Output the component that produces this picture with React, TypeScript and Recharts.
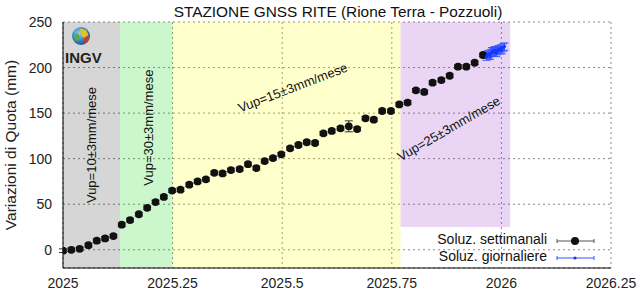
import React from 'react';
import {
  ScatterChart,
  Scatter,
  XAxis,
  YAxis,
  CartesianGrid,
  ReferenceArea,
  ReferenceDot,
  ErrorBar,
} from 'recharts';

// Weekly solutions (decimal year, mm)
const weeklyT = [
  2025.0, 2025.019, 2025.038, 2025.058, 2025.077, 2025.096, 2025.115, 2025.134, 2025.153, 2025.173,
  2025.192, 2025.211, 2025.23, 2025.249, 2025.268, 2025.288, 2025.307, 2025.326, 2025.345, 2025.364,
  2025.383, 2025.403, 2025.422, 2025.441, 2025.46, 2025.479, 2025.498, 2025.518, 2025.537, 2025.556,
  2025.575, 2025.594, 2025.613, 2025.633, 2025.652, 2025.671, 2025.69, 2025.709, 2025.728, 2025.748,
  2025.767, 2025.786, 2025.805, 2025.824, 2025.843, 2025.863, 2025.882, 2025.901, 2025.92, 2025.939,
  2025.958,
];
const weeklyV = [
  -1, 0, 1, 5, 10, 12.5, 15, 27.5, 32.6, 39,
  46, 52.4, 58, 65, 66, 71.4, 75, 77.3, 84.5, 83.8,
  87.5, 88.6, 94, 89.7, 97.4, 100.6, 104.8, 111.4, 115, 118,
  117.2, 127.8, 130.4, 133.3, 135.5, 132.5, 144.3, 142.8, 152.3, 152.3,
  159.5, 161.6, 175, 173.2, 183.4, 186.3, 191, 201, 201, 205.3,
  213.8,
];
const weeklyErr = [
  2, 2, 2, 2, 2, 2, 2, 2, 2, 2,
  2, 2, 2, 2, 2, 2, 2, 2, 2, 2,
  2, 2, 2, 2, 2, 2, 2, 2, 2, 2,
  2, 2, 2, 2, 6, 2, 2, 2, 2, 2,
  2, 2, 2, 2, 2, 2, 2, 2, 2, 2,
  2,
];

// Daily solutions
const dailyT = [
  2025.966, 2025.969, 2025.971, 2025.974, 2025.977, 2025.979, 2025.982, 2025.985,
  2025.988, 2025.99, 2025.993, 2025.996, 2025.999, 2026.001, 2026.004, 2026.007,
];
const dailyV = [212, 214, 215, 213, 216, 218, 217, 219, 216, 218, 220, 219, 221, 219, 222, 223];
const dailyErr = [4, 4, 4, 4, 4, 4, 4, 4, 4, 4, 4, 4, 4, 4, 4, 4];

const xTicks = [2025, 2025.25, 2025.5, 2025.75, 2026, 2026.25];
const xMinorTicks = [
  2025.0833, 2025.1667, 2025.3333, 2025.4167, 2025.5833, 2025.6667,
  2025.8333, 2025.9167, 2026.0833, 2026.1667,
];
const yTicks = [0, 50, 100, 150, 200, 250];
const yMinorTicks = [
  -10, 10, 20, 30, 40, 60, 70, 80, 90, 110, 120, 130, 140, 160, 170, 180, 190, 210, 220, 230, 240,
];

// Deformation phases
const phaseStart = [2025, 2025.13, 2025.25, 2025.77];
const phaseEnd = [2025.13, 2025.25, 2025.77, 2026.02];
const phaseBottom = [-20, -20, -20, 25];
const phaseTop = [250, 250, 250, 250];
const phaseColors = ['rgba(0,0,0,0.16)', 'rgba(0,210,0,0.2)', 'rgba(255,255,0,0.2)', 'rgba(150,50,200,0.2)'];

const rateLabels = ['Vup=10±3mm/mese', 'Vup=30±3mm/mese', 'Vup=15±3mm/mese', 'Vup=25±3mm/mese'];
const rateX = [2025.066, 2025.194, 2025.524, 2025.88];
const rateY = [115, 134, 178, 133];
const rateAngle = [-90, -90, -21, -30];

const FONT = '"Liberation Sans", Arial, sans-serif';

const weeklyData = weeklyT.map((t, i) => ({ t, v: weeklyV[i], err: weeklyErr[i] }));
const dailyData = dailyT.map((t, i) => ({ t, v: dailyV[i], err: dailyErr[i] }));

const rotatedLabel = (text: string, angle: number) => (props: any) => {
  const { x, y } = props.viewBox;
  return (
    <text
      x={0}
      y={0}
      transform={`translate(${x},${y}) rotate(${angle})`}
      textAnchor="middle"
      dominantBaseline="central"
      fontSize={13}
      fontFamily={FONT}
      fill="#111"
    >
      {text}
    </text>
  );
};

export default function App() {
  return (
    <div style={{ position: 'absolute', left: 0, top: 0, width: 638, height: 302, background: '#fff', fontFamily: FONT }}>
      <ScatterChart width={638} height={302} margin={{ top: 22, right: 27, bottom: 0, left: 0 }}>
        {phaseStart.map((s, i) => (
          <ReferenceArea
            key={i}
            x1={s}
            x2={phaseEnd[i]}
            y1={phaseBottom[i]}
            y2={phaseTop[i]}
            fill={phaseColors[i]}
            fillOpacity={1}
            stroke="none"
          />
        ))}
        <CartesianGrid stroke="#8a8a8a" strokeDasharray="2 3" />
        <XAxis
          type="number"
          dataKey="t"
          domain={[2025, 2026.25]}
          ticks={xTicks}
          interval={0}
          height={34}
          tickLine={false}
          tickSize={6}
          tickMargin={4}
          axisLine={{ stroke: '#000' }}
          tick={{ fontSize: 14, fill: '#222', fontFamily: FONT }}
          allowDataOverflow
        />
        <YAxis
          type="number"
          dataKey="v"
          domain={[-20, 250]}
          ticks={yTicks}
          interval={0}
          width={63}
          tickLine={false}
          tickSize={6}
          tickMargin={5}
          axisLine={{ stroke: '#000' }}
          tick={{ fontSize: 14, fill: '#222', fontFamily: FONT }}
          allowDataOverflow
        />
        {/* inward tick marks on all four sides */}
        <XAxis xAxisId="top" orientation="top" mirror type="number" domain={[2025, 2026.25]} ticks={xTicks} interval={0} height={0} tick={false} tickSize={5} axisLine={{ stroke: '#000' }} tickLine={{ stroke: '#000' }} allowDataOverflow />
        <XAxis xAxisId="topMinor" orientation="top" mirror type="number" domain={[2025, 2026.25]} ticks={xMinorTicks} interval={0} height={0} tick={false} tickSize={3} axisLine={false} tickLine={{ stroke: '#000' }} allowDataOverflow />
        <XAxis xAxisId="bot" orientation="bottom" mirror type="number" domain={[2025, 2026.25]} ticks={xTicks} interval={0} height={0} tick={false} tickSize={5} axisLine={false} tickLine={{ stroke: '#000' }} allowDataOverflow />
        <XAxis xAxisId="botMinor" orientation="bottom" mirror type="number" domain={[2025, 2026.25]} ticks={xMinorTicks} interval={0} height={0} tick={false} tickSize={3} axisLine={false} tickLine={{ stroke: '#000' }} allowDataOverflow />
        <YAxis yAxisId="right" orientation="right" mirror type="number" domain={[-20, 250]} ticks={yTicks} interval={0} width={0} tick={false} tickSize={5} axisLine={{ stroke: '#000' }} tickLine={{ stroke: '#000' }} allowDataOverflow />
        <YAxis yAxisId="rightMinor" orientation="right" mirror type="number" domain={[-20, 250]} ticks={yMinorTicks} interval={0} width={0} tick={false} tickSize={3} axisLine={false} tickLine={{ stroke: '#000' }} allowDataOverflow />
        <YAxis yAxisId="left" orientation="left" mirror type="number" domain={[-20, 250]} ticks={yTicks} interval={0} width={0} tick={false} tickSize={5} axisLine={false} tickLine={{ stroke: '#000' }} allowDataOverflow />
        <YAxis yAxisId="leftMinor" orientation="left" mirror type="number" domain={[-20, 250]} ticks={yMinorTicks} interval={0} width={0} tick={false} tickSize={3} axisLine={false} tickLine={{ stroke: '#000' }} allowDataOverflow />

        {rateLabels.map((txt, i) => (
          <ReferenceDot
            key={txt}
            x={rateX[i]}
            y={rateY[i]}
            r={0}
            fill="none"
            stroke="none"
            label={rotatedLabel(txt, rateAngle[i])}
          />
        ))}

        <Scatter
          name="Soluz. settimanali"
          data={weeklyData}
          isAnimationActive={false}
          shape={(p: any) => <circle cx={p.cx} cy={p.cy} r={3.9} fill="#111" />}
        >
          <ErrorBar dataKey="err" direction="y" width={4} stroke="#333" strokeWidth={1} />
        </Scatter>
        <Scatter
          name="Soluz. giornaliere"
          data={dailyData}
          isAnimationActive={false}
          shape={(p: any) => <circle cx={p.cx} cy={p.cy} r={1.6} fill="#1535ff" />}
        >
          <ErrorBar dataKey="err" direction="y" width={4} stroke="#3355ff" strokeWidth={1} />
        </Scatter>
      </ScatterChart>

      <svg width={638} height={302} style={{ position: 'absolute', left: 0, top: 0, pointerEvents: 'none' }}>
        <defs>
          <radialGradient id="globe" cx="40%" cy="35%" r="70%">
            <stop offset="0%" stopColor="#8fd0f0" />
            <stop offset="60%" stopColor="#2f86c0" />
            <stop offset="100%" stopColor="#1c4f86" />
          </radialGradient>
        </defs>
        <text x={338} y={16.5} textAnchor="middle" fontSize={15.4} fontFamily={FONT} fill="#111">
          STAZIONE GNSS RITE (Rione Terra - Pozzuoli)
        </text>
        <text transform="translate(16,145) rotate(-90)" textAnchor="middle" fontSize={15.5} fontFamily={FONT} fill="#222">
          Variazioni di Quota (mm)
        </text>

        {/* INGV logo */}
        <circle cx={81} cy={36} r={9} fill="url(#globe)" />
        <path d="M80 28.5 L86 30 L88.5 35 L84 38 L81 35 Z" fill="#e8c020" />
        <path d="M84 38 L89 36 L88.5 41 L84 43.5 Z" fill="#d03a2a" />
        <path d="M73.5 36 L78 33 L80 38 L76 41.5 Z" fill="#5aa84a" />
        <text x={65} y={63} fontSize={15} fontWeight="bold" fontFamily='"Liberation Sans Narrow", "Arial Narrow", sans-serif' fill="#222">
          INGV
        </text>

        {/* legend */}
        <text x={547} y={244} textAnchor="end" fontSize={14} fontFamily={FONT} fill="#111">
          Soluz. settimanali
        </text>
        <line x1={557} y1={241} x2={594} y2={241} stroke="#555" strokeWidth={1} />
        <line x1={557} y1={239} x2={557} y2={243} stroke="#555" strokeWidth={1} />
        <line x1={594} y1={239} x2={594} y2={243} stroke="#555" strokeWidth={1} />
        <circle cx={575} cy={241} r={4} fill="#111" />

        <text x={547} y={261} textAnchor="end" fontSize={14} fontFamily={FONT} fill="#111">
          Soluz. giornaliere
        </text>
        <line x1={557} y1={258} x2={594} y2={258} stroke="#3355ff" strokeWidth={1} />
        <line x1={557} y1={256} x2={557} y2={260} stroke="#3355ff" strokeWidth={1} />
        <line x1={594} y1={256} x2={594} y2={260} stroke="#3355ff" strokeWidth={1} />
        <circle cx={575} cy={258} r={1.6} fill="#1535ff" />
      </svg>
    </div>
  );
}
